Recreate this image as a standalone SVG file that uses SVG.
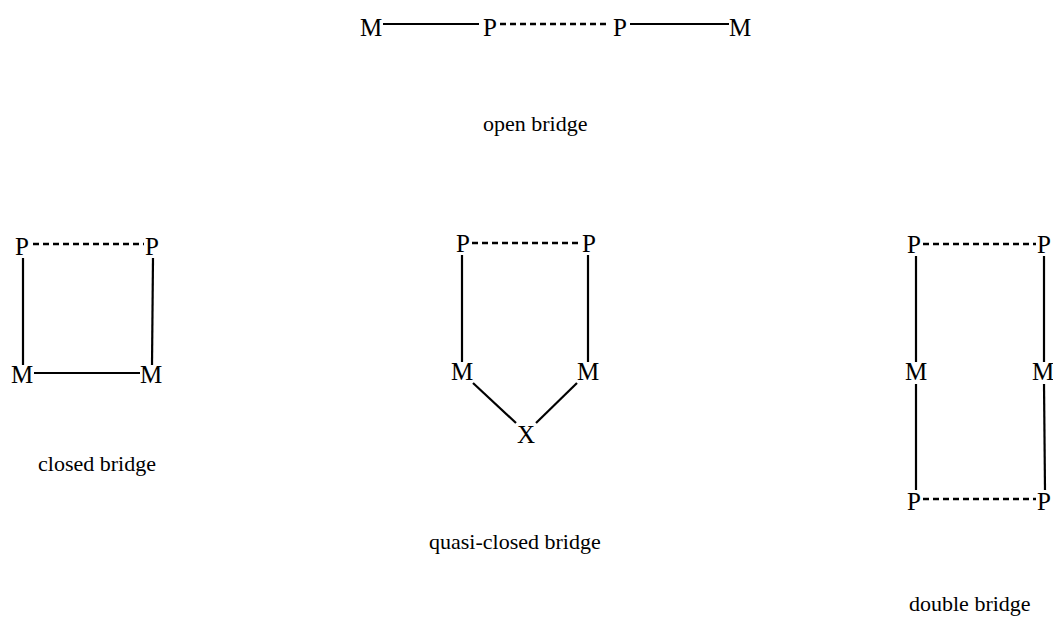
<svg xmlns="http://www.w3.org/2000/svg" width="1053" height="622" viewBox="0 0 1053 622">
  <style>
    .n { font-family: "Liberation Serif", "Times New Roman", serif; font-size: 25px; fill: #000; text-anchor: middle; }
    .lbl { font-family: "Liberation Serif", "Times New Roman", serif; font-size: 22px; fill: #000; }
    .solid { stroke: #000; stroke-width: 2.2; fill: none; }
    .dash { stroke: #000; stroke-width: 2.4; fill: none; stroke-dasharray: 6 4; }
  </style>
  <rect width="1053" height="622" fill="#fff"/>

  <!-- bonds -->
  <g id="connectors">
    <!-- open bridge -->
    <line class="solid" x1="383" y1="24" x2="479" y2="24"/>
    <line class="dash" x1="500" y1="24" x2="610" y2="24"/>
    <line class="solid" x1="630" y1="24" x2="729" y2="24"/>
    <!-- closed bridge -->
    <line class="dash" x1="33" y1="244" x2="144" y2="244"/>
    <line class="solid" x1="23" y1="258" x2="23" y2="365"/>
    <line class="solid" x1="153" y1="258" x2="152" y2="365"/>
    <line class="solid" x1="34" y1="373" x2="140" y2="373"/>
    <!-- quasi-closed bridge -->
    <line class="dash" x1="472" y1="243" x2="580" y2="243"/>
    <line class="solid" x1="462" y1="255" x2="462" y2="362"/>
    <line class="solid" x1="588" y1="255" x2="588" y2="362"/>
    <line class="solid" x1="473" y1="383" x2="516" y2="423"/>
    <line class="solid" x1="536" y1="423" x2="577" y2="383"/>
    <!-- double bridge -->
    <line class="dash" x1="923" y1="244" x2="1036" y2="244"/>
    <line class="solid" x1="916" y1="256" x2="916" y2="362"/>
    <line class="solid" x1="1044" y1="256" x2="1044" y2="362"/>
    <line class="solid" x1="916" y1="384" x2="916" y2="490"/>
    <line class="solid" x1="1044" y1="384" x2="1045" y2="490"/>
    <line class="dash" x1="923" y1="499" x2="1036" y2="499"/>
  </g>

  <!-- open bridge -->
  <g id="open-m1"><text class="n" x="371" y="36">M</text></g>
  <g id="open-p1"><text class="n" x="490" y="36">P</text></g>
  <g id="open-p2"><text class="n" x="620" y="36">P</text></g>
  <g id="open-m2"><text class="n" x="740" y="36">M</text></g>
  <g id="open-label"><text class="lbl" x="483" y="131">open bridge</text></g>

  <!-- closed bridge -->
  <g id="closed-p1"><text class="n" x="22" y="255">P</text></g>
  <g id="closed-p2"><text class="n" x="152" y="255">P</text></g>
  <g id="closed-m1"><text class="n" x="22" y="383">M</text></g>
  <g id="closed-m2"><text class="n" x="151" y="383">M</text></g>
  <g id="closed-label"><text class="lbl" x="38" y="471">closed bridge</text></g>

  <!-- quasi-closed bridge -->
  <g id="quasi-p1"><text class="n" x="463" y="252">P</text></g>
  <g id="quasi-p2"><text class="n" x="589" y="252">P</text></g>
  <g id="quasi-m1"><text class="n" x="462" y="380">M</text></g>
  <g id="quasi-m2"><text class="n" x="588" y="380">M</text></g>
  <g id="quasi-x"><text class="n" x="526" y="443">X</text></g>
  <g id="quasi-label"><text class="lbl" x="429" y="549">quasi-closed bridge</text></g>

  <!-- double bridge -->
  <g id="double-p1"><text class="n" x="914" y="253">P</text></g>
  <g id="double-p2"><text class="n" x="1044" y="253">P</text></g>
  <g id="double-m1"><text class="n" x="916" y="380">M</text></g>
  <g id="double-m2"><text class="n" x="1043" y="380">M</text></g>
  <g id="double-p3"><text class="n" x="914" y="510">P</text></g>
  <g id="double-p4"><text class="n" x="1044" y="510">P</text></g>
  <g id="double-label"><text class="lbl" x="909" y="611">double bridge</text></g>
</svg>
